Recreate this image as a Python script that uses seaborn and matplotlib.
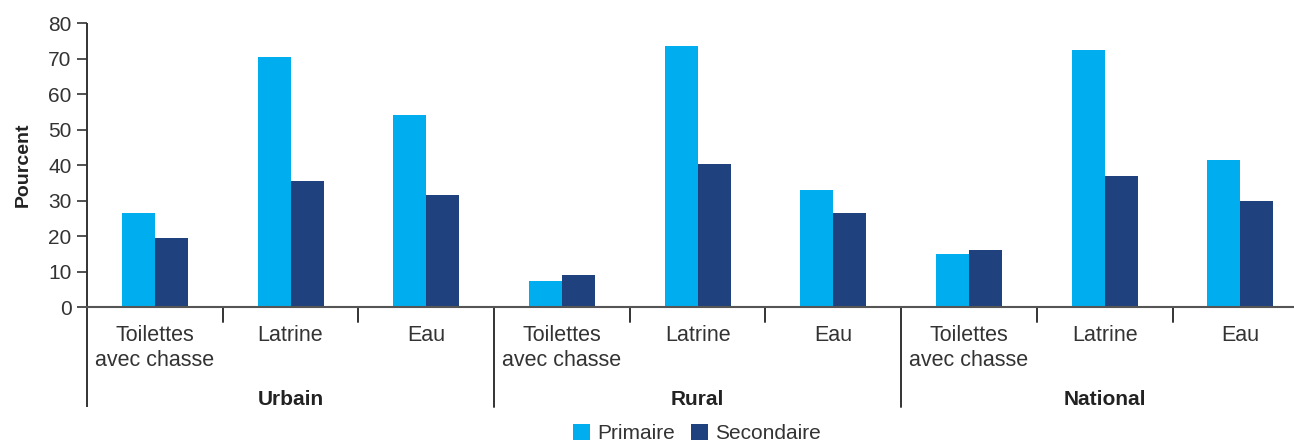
import matplotlib
matplotlib.use("Agg")
import matplotlib.pyplot as plt
import seaborn as sns
import pandas as pd
from matplotlib.patches import Patch

groups = ["Urbain", "Rural", "National"]
items = ["Toilettes\navec chasse", "Latrine", "Eau"]
series = ["Primaire", "Secondaire"]
primaire = [26.6, 70.5, 54.1, 7.3, 73.6, 33.0, 14.9, 72.5, 41.4]
secondaire = [19.4, 35.5, 31.5, 9.0, 40.3, 26.5, 16.0, 36.9, 29.8]
yticks = [0, 10, 20, 30, 40, 50, 60, 70, 80]
colors = ["#00AEEF", "#1F417D"]

sns.set_theme(style="white")
plt.rcParams["font.family"] = ["Liberation Sans", "DejaVu Sans"]
text_color = "#333333"

keys = [f"{g}|{i}" for g in groups for i in items]
rows = []
for k, p, s in zip(keys, primaire, secondaire):
    rows.append({"cat": k, "serie": series[0], "val": p})
    rows.append({"cat": k, "serie": series[1], "val": s})
df = pd.DataFrame(rows)

fig = plt.figure(figsize=(12.94, 4.45), dpi=100)
ax = fig.add_axes([87 / 1294, 0.310, 1 - 87 / 1294, 0.6375])
sns.barplot(data=df, x="cat", y="val", hue="serie", order=keys, hue_order=series,
            palette=colors, width=0.486, saturation=1, ax=ax, legend=False,
            linewidth=0)

ax.set_xlim(-0.5, 8.395)
ax.set_ylim(0, 80)
ax.set_yticks(yticks)
ax.set_yticklabels([str(t) for t in yticks], fontsize=15, color=text_color)
ax.tick_params(axis="y", left=True, length=7, width=1.2, color=text_color, pad=4)
ax.set_xticks([])
ax.set_xlabel("")
ax.set_ylabel("Pourcent", fontsize=14, fontweight="bold", color="#222222", labelpad=12)
for sp in ["top", "right", "left"]:
    ax.spines[sp].set_visible(False)
ax.spines["bottom"].set_color("#555555")
ax.spines["bottom"].set_linewidth(1.5)

trans = ax.get_xaxis_transform()
# left axis line extended below
ax.plot([-0.5, -0.5], [-0.352, 1.0], transform=trans, color=text_color, lw=1.4,
        clip_on=False, solid_capstyle="butt")
# category boundary ticks and group separators
for b in range(1, 9):
    x = b - 0.5
    if b % 3 == 0:
        ax.plot([x, x], [-0.352, 0], transform=trans, color=text_color, lw=1.4,
                clip_on=False)
    else:
        ax.plot([x, x], [-0.052, 0], transform=trans, color=text_color, lw=1.4,
                clip_on=False)

# category labels
for idx, k in enumerate(keys):
    label = k.split("|")[1]
    ax.text(idx, -0.062, label, transform=trans, ha="center", va="top",
            fontsize=15.5, color=text_color, linespacing=1.25)
# group labels
for gi, g in enumerate(groups):
    ax.text(gi * 3 + 1, -0.325, g, transform=trans, ha="center", va="center",
            fontsize=15, fontweight="bold", color="#222222")

handles = [Patch(facecolor=c, edgecolor="none") for c in colors]
fig.legend(handles, series, loc="lower center", bbox_to_anchor=(697 / 1294, -0.038),
           ncol=2, frameon=False, fontsize=15, handlelength=0.8, handleheight=0.8,
           handletextpad=0.35, columnspacing=0.8, labelcolor=text_color)

fig.savefig("out.png", dpi=100)
